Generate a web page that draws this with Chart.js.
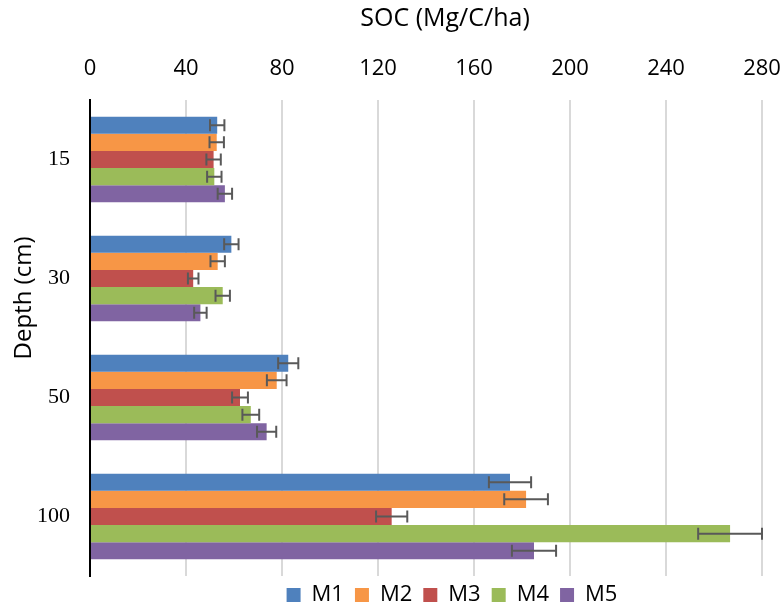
<!DOCTYPE html>
<html>
<head>
<meta charset="utf-8">
<script src="https://cdn.jsdelivr.net/npm/chart.js@4/dist/chart.umd.min.js"></script>
<style>
html,body{margin:0;padding:0;background:#fff;}
#wrap{width:780px;height:612px;position:relative;}
</style>
</head>
<body>
<div id="wrap"><canvas id="c" width="780" height="612"></canvas></div>
<script>
const categories = ["15", "30", "50", "100"];
const seriesNames = ["M1", "M2", "M3", "M4", "M5"];
const M1 = [53.0, 58.9, 82.6, 175.0];
const M2 = [52.8, 53.2, 77.8, 181.7];
const M3 = [51.5, 43.0, 62.5, 125.7];
const M4 = [51.8, 55.3, 67.0, 266.7];
const M5 = [56.2, 46.0, 73.6, 185.0];
const M1err = [3.0, 3.0, 4.2, 8.8];
const M2err = [3.0, 3.0, 4.1, 9.1];
const M3err = [3.0, 2.2, 3.3, 6.5];
const M4err = [3.0, 3.0, 3.5, 13.3];
const M5err = [3.0, 2.6, 4.0, 9.2];
const xTicks = [0, 40, 80, 120, 160, 200, 240, 280];
const xTitleText = 'SOC (Mg/C/ha)';
const yTitleText = 'Depth (cm)';
const colors = ["#4F81BD", "#F79646", "#C0504D", "#9BBB59", "#8064A2"];

const values = [M1, M2, M3, M4, M5];
const errors = [M1err, M2err, M3err, M4err, M5err];

const errorBars = {
  id: 'errorBars',
  afterDatasetsDraw(chart) {
    const ctx = chart.ctx;
    const xs = chart.scales.x;
    ctx.save();
    ctx.strokeStyle = '#595959';
    ctx.lineWidth = 2;
    chart.data.datasets.forEach((ds, di) => {
      const meta = chart.getDatasetMeta(di);
      meta.data.forEach((bar, i) => {
        const v = ds.data[i], e = ds.err[i];
        const x1 = xs.getPixelForValue(v - e);
        const x2 = xs.getPixelForValue(v + e);
        const y = bar.y;
        const h = 6;
        ctx.beginPath();
        ctx.moveTo(x1, y); ctx.lineTo(x2, y);
        ctx.moveTo(x1, y - h); ctx.lineTo(x1, y + h);
        ctx.moveTo(x2, y - h); ctx.lineTo(x2, y + h);
        ctx.stroke();
      });
    });
    ctx.restore();
  }
};

const axisTitles = {
  id: 'axisTitles',
  afterDraw(chart) {
    const ctx = chart.ctx;
    ctx.save();
    ctx.fillStyle = '#000';
    ctx.textAlign = 'center';
    ctx.textBaseline = 'middle';
    ctx.font = '25px "Open Sans"';
    ctx.fillText(xTitleText, 445, 19);
    ctx.translate(24, 298);
    ctx.rotate(-Math.PI / 2);
    ctx.font = '24px "Open Sans"';
    ctx.fillText(yTitleText, 0, 0);
    ctx.restore();
  }
};

const legendShift = {
  id: 'legendShift',
  afterLayout(chart) {
    const lg = chart.legend;
    if (!lg) return;
    lg.left += 62; lg.right += 62;
    lg.top -= 3; lg.bottom -= 3;
  }
};

new Chart(document.getElementById('c'), {
  type: 'bar',
  data: {
    labels: categories,
    datasets: seriesNames.map((n, i) => ({
      label: n,
      data: values[i],
      err: errors[i],
      backgroundColor: colors[i],
      borderWidth: 0,
      barPercentage: 1.0,
      categoryPercentage: 0.72
    }))
  },
  options: {
    indexAxis: 'y',
    responsive: false,
    animation: false,
    devicePixelRatio: 1,
    layout: { padding: { left: 0, right: 0, top: 0, bottom: 0 } },
    scales: {
      x: {
        position: 'top',
        min: 0, max: 280,
        afterBuildTicks(s) { s.ticks = xTicks.map(v => ({ value: v })); },
        afterFit(s) { s.height = 100; s.paddingRight = 18; s.paddingLeft = 0; },
        grid: { color: '#d9d9d9', lineWidth: 2, drawTicks: false },
        border: { display: false },
        ticks: { color: '#000', font: { family: 'Open Sans', size: 22 }, padding: 18, maxRotation: 0 },
        title: { display: false }
      },
      y: {
        afterFit(s) { s.width = 90; },
        grid: { display: false, drawTicks: false },
        border: { display: true, color: '#000', width: 2 },
        ticks: { color: '#000', font: { family: 'Liberation Serif', size: 22 }, padding: 20 }
      }
    },
    plugins: {
      legend: {
        position: 'bottom',
        maxHeight: 36,
        labels: { color: '#000', font: { family: 'Open Sans', size: 22 }, boxWidth: 14, boxHeight: 14, padding: 11 }
      },
      tooltip: { enabled: false }
    }
  },
  plugins: [errorBars, axisTitles, legendShift]
});
</script>
</body>
</html>
